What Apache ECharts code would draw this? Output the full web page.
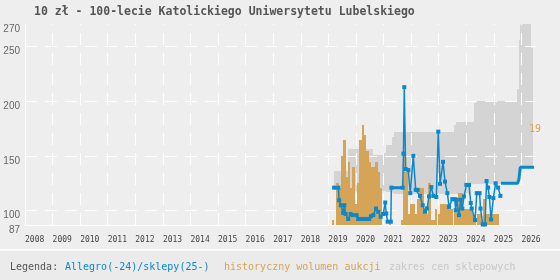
<!DOCTYPE html>
<html>
<head>
<meta charset="utf-8">
<script src="https://cdn.jsdelivr.net/npm/echarts@6/dist/echarts.min.js"></script>
<style>
html, body { margin: 0; padding: 0; background: #eeeeee; }
#chart { width: 560px; height: 280px; }
</style>
</head>
<body>
<div id="chart"></div>
<script>
const titleText = '10 zł - 100-lecie Katolickiego Uniwersytetu Lubelskiego'

// osie
const yLabels = [87, 100, 150, 200, 250, 270]
const yGrid = [100, 150, 200, 250]
const xYears = [2008, 2009, 2010, 2011, 2012, 2013, 2014, 2015, 2016, 2017, 2018, 2019, 2020, 2021, 2022, 2023, 2024, 2025, 2026]
const xEnd = 2026.53

// ceny z Allegro (do 2024)
const allegroDates = [
  '2019-03-18', '2019-05-14', '2019-05-24', '2019-06-16', '2019-07-16', '2019-08-01', '2019-08-17', '2019-09-21',
  '2019-10-23', '2019-11-18', '2020-01-10', '2020-01-31', '2020-02-23', '2020-03-25', '2020-04-30', '2020-05-31',
  '2020-06-26', '2020-07-19', '2020-08-19', '2020-09-23', '2020-10-23', '2020-11-24', '2020-12-28', '2021-01-24',
  '2021-02-06', '2021-02-25', '2021-04-08', '2021-04-15', '2021-09-12', '2021-09-22', '2021-10-03', '2021-10-21',
  '2021-11-25', '2021-12-21', '2022-01-30', '2022-03-03', '2022-03-29', '2022-04-29', '2022-06-04', '2022-07-04',
  '2022-07-31', '2022-08-26', '2022-09-26', '2022-10-22', '2022-12-01', '2022-12-27', '2023-01-19', '2023-02-28',
  '2023-03-26', '2023-04-26', '2023-05-19', '2023-07-01', '2023-08-02', '2023-08-15', '2023-08-28', '2023-09-27',
  '2023-10-20', '2023-11-10', '2023-12-03', '2024-01-03', '2024-02-07', '2024-03-01', '2024-03-14', '2024-04-27',
  '2024-05-20', '2024-06-26', '2024-07-09', '2024-08-07', '2024-09-07', '2024-09-27', '2024-10-17', '2024-11-03',
  '2024-11-26', '2024-12-26', '2025-01-25', '2025-02-27', '2025-03-29'
]
const allegroPrices = [
  121, 121, 109.5, 105, 98, 105, 97, 92.5,
  97, 96, 96, 92.5, 92.5, 92.5, 92.5, 92.5,
  92.5, 95, 96, 102, 99, 94.5, 97, 107.5,
  97.5, 90, 90, 121, 121, 152, 212.5, 138,
  137, 116, 150, 119, 119, 113.5, 105, 99,
  102, 113, 121.5, 113.5, 112.5, 172, 124.5, 144.5,
  126.5, 116, 103.5, 110.5, 110.5, 100.5, 110, 96,
  110, 102, 113, 123.5, 123.5, 107, 102, 91.5,
  116, 116, 102, 87.5, 87.5, 127, 121, 112.5,
  92, 111.5, 125, 121, 113.5
]

// ceny sklepowe (od 2025), null = przerwa
const shopDates = ['2019-03-18', '2019-05-14', '2019-05-20', '2021-04-15', '2021-09-12', '2021-09-20',
  '2025-04-06', '2025-11-12', '2025-11-29', '2025-12-17', '2026-06-18']
const shopPrices = [121, 121, null, 121, 121, null, 125, 125, 128.5, 139.5, 139.5]

// wolumen aukcji, miesięcznie od 2019-03
const volumeStart = [2019, 3]
const volumes = [
  1, 0, 8, 7, 13, 16, 9, 12, 7, 11,
  4, 8, 16, 19, 17, 14, 12, 11, 11, 12, 10, 7,
  0, 0, 0, 1, 0, 0, 0, 0, 1, 14, 10, 2,
  4, 4, 2, 5, 7, 7, 2, 2, 8, 1, 1, 3,
  2, 4, 4, 4, 4, 3, 3, 3, 3, 6, 6, 3,
  3, 3, 3, 2, 1, 2, 2, 1, 5, 2, 2, 2,
  2, 2, 2
]
const volumeMax = 19

// zakres cen sklepowych (schodkowo, wartość trwa do następnej daty)
const bandDates = ['2019-03-20', '2019-09-20', '2020-08-18', '2021-01-01', '2021-02-01', '2021-04-20', '2021-05-20',
  '2023-07-27', '2023-08-18', '2024-03-01', '2024-04-15', '2024-05-12', '2025-11-05', '2025-11-20', '2025-11-30',
  '2025-12-17', '2026-05-08', '2026-06-01']
const bandMin = [122, 118, 118, 118, 117, 116, 115, 115, 115, 124, 124, 124, 124, 129, 129, 139, 139, 139]
const bandMax = [136, 156.5, 151, 153, 160, 167.5, 171.5, 178, 180.5, 180.5, 198, 200, 211, 211, 255, 270, 248, 248]

const BLUE = '#0a88cc'
const ORANGE = '#d6a456'
const BAND = '#d4d4d4'

function toYear(s) {
  const [y, m, d] = s.split('-').map(Number)
  const t0 = Date.UTC(y, 0, 1)
  const t1 = Date.UTC(y + 1, 0, 1)
  return y + (Date.UTC(y, m - 1, d || 1) - t0) / (t1 - t0)
}

// słupki wyśrodkowane na początku miesiąca
const volumeData = volumes.map((v, i) => {
  const mi = volumeStart[1] - 1 + i
  const y = volumeStart[0] + Math.floor(mi / 12)
  const m = (mi % 12) + 1
  const x = toYear(y + '-' + String(m).padStart(2, '0') + '-01')
  return [x - 1 / 24, x + 1 / 24, v]
})

const bandData = []
for (let i = 0; i < bandDates.length - 1; i++) {
  bandData.push([toYear(bandDates[i]), toYear(bandDates[i + 1]), bandMin[i], bandMax[i]])
}

// prostokąt przyciągnięty do pełnych pikseli
function rectItem(api, x0, x1, y0, y1, fill) {
  const a = api.coord([x0, y1])
  const b = api.coord([x1, y0])
  const left = Math.round(a[0])
  const top = Math.round(a[1])
  return {
    type: 'rect',
    shape: { x: left, y: top, width: Math.round(b[0]) - left, height: Math.round(b[1]) - top },
    style: { fill: fill },
  }
}

const chart = echarts.init(document.getElementById('chart'))

const option = {
  backgroundColor: '#eeeeee',
  animation: false,
  title: {
    text: titleText,
    left: 34,
    top: 6,
    padding: 0,
    textStyle: { fontFamily: 'DejaVu Sans Mono', fontWeight: 'bold', fontSize: 11.5, color: '#555' },
  },
  grid: { left: 25, right: 24, top: 24, bottom: 55 },
  xAxis: {
    type: 'value',
    min: 2008,
    max: xEnd,
    axisLine: { lineStyle: { color: '#fff', width: 1 } },
    axisTick: { show: false, customValues: xYears.slice(1) },
    axisLabel: {
      customValues: xYears,
      align: 'left',
      margin: 11,
      fontFamily: 'DejaVu Sans Mono',
      fontSize: 8,
      color: '#444',
      formatter: (v) => String(v),
    },
    splitLine: { show: true, lineStyle: { color: '#fff', width: 1, type: [12, 8], dashOffset: 11 } },
  },
  yAxis: [
    {
      type: 'value',
      min: 87,
      max: 270,
      axisLine: { show: true, lineStyle: { color: '#fff', width: 1 } },
      axisTick: { show: false, customValues: yGrid },
      axisLabel: {
        customValues: yLabels,
        verticalAlign: 'top',
        margin: 5,
        fontFamily: 'Liberation Sans',
        fontSize: 10,
        color: (v) => (v === 87 || v === 270 ? '#111' : '#666'),
      },
      splitLine: { show: true, lineStyle: { color: '#fff', width: 1, type: [12, 8] } },
    },
    {
      type: 'value',
      min: 0,
      max: volumeMax * 2,
      position: 'right',
      axisLine: { show: false },
      axisTick: { show: false },
      splitLine: { show: false },
      axisLabel: {
        customValues: [volumeMax],
        margin: -7,
        verticalAlign: 'top',
        fontFamily: 'DejaVu Sans Mono',
        fontSize: 10,
        color: ORANGE,
      },
    },
  ],
  series: [
    {
      type: 'custom',
      z: -1,
      encode: { x: [0, 1], y: [2, 3] },
      renderItem: (params, api) =>
        rectItem(api, api.value(0), api.value(1), api.value(2), api.value(3), BAND),
      data: bandData,
    },
    {
      type: 'custom',
      yAxisIndex: 1,
      z: 3,
      encode: { x: [0, 1], y: 2 },
      renderItem: (params, api) =>
        rectItem(api, api.value(0), api.value(1), 0, api.value(2), ORANGE),
      data: volumeData,
    },
    {
      type: 'line',
      z: 5,
      symbol: 'none',
      lineStyle: { color: BLUE, width: 3 },
      data: shopDates.map((d, i) => [toYear(d), shopPrices[i] == null ? '-' : shopPrices[i]]),
    },
    {
      type: 'line',
      z: 6,
      symbol: 'rect',
      symbolSize: 4,
      itemStyle: { color: BLUE },
      lineStyle: { color: BLUE, width: 1.5 },
      data: allegroDates.map((d, i) => [toYear(d), allegroPrices[i]]),
    },
  ],
  graphic: [
    { type: 'rect', left: 0, top: 249, shape: { width: 560, height: 31 }, style: { fill: '#ebebeb' }, z: -10 },
    { type: 'rect', left: 0, top: 249, shape: { width: 560, height: 2 }, style: { fill: '#fafafa' }, z: -9 },
    { type: 'text', left: 10, top: 262, style: { text: 'Legenda:', fill: '#555', font: '10px "DejaVu Sans Mono"' } },
    { type: 'text', left: 65, top: 262, style: { text: 'Allegro(-24)/sklepy(25-)', fill: BLUE, font: '10px "DejaVu Sans Mono"' } },
    { type: 'text', left: 224, top: 262, style: { text: 'historyczny wolumen aukcji', fill: ORANGE, font: '10px "DejaVu Sans Mono"' } },
    { type: 'text', left: 389, top: 262, style: { text: 'zakres cen sklepowych', fill: '#c8c8c8', font: '10px "DejaVu Sans Mono"' } },
  ],
}

chart.setOption(option)
</script>
</body>
</html>
